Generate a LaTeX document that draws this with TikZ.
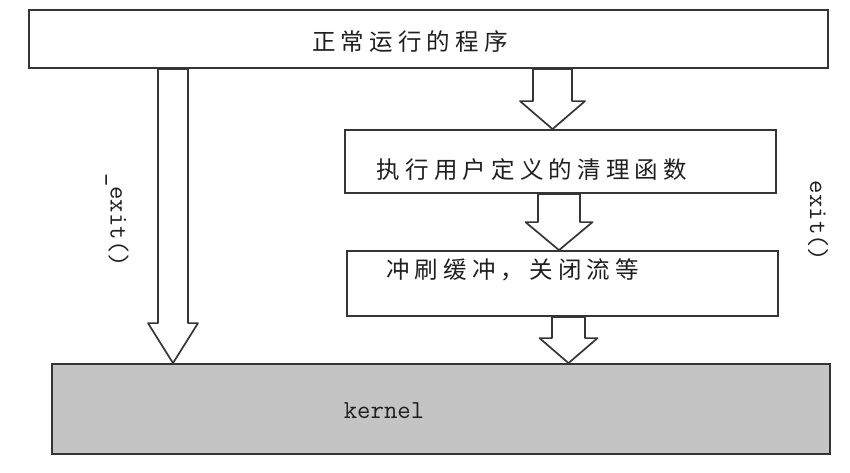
\documentclass[tikz,border=0pt]{standalone}
\usepackage{fontspec}
\newfontfamily\cjk[LetterSpace=22]{Noto Sans CJK SC}
\usetikzlibrary{calc}
\definecolor{kgray}{HTML}{C4C4C4}
\definecolor{edge}{HTML}{353535}
\tikzset{
  boxnode/.style={draw=edge, line width=1.8pt, rectangle, inner sep=0pt, fill=white},
  cjktext/.style={font=\cjk\fontsize{23.5}{23.5}\selectfont, inner sep=0pt, text=black!88},
  monotext/.style={font=\ttfamily\fontsize{26}{26}\selectfont, inner sep=0pt, text=black!88},
  barrow/.style={draw=edge, fill=white, line width=1.7pt, line join=round},
}
% #1 start, #2 end, #3 shaft half width, #4 head half width, #5 head length
\newcommand\blockarr[5]{\draw[barrow] let \p1=(#1), \p2=(#2) in
  (\x1-#3pt,\y1) -- (\x1+#3pt,\y1) -- (\x1+#3pt,\y2+#5pt) -- (\x1+#4pt,\y2+#5pt)
  -- (\x1,\y2) -- (\x1-#4pt,\y2+#5pt) -- (\x1-#3pt,\y2+#5pt) -- cycle;}
\begin{document}
\begin{tikzpicture}[x=1pt,y=-1pt]
\useasboundingbox (0,0) rectangle (850,472);
% boxes
\node[boxnode, minimum width=799pt, minimum height=58pt] (top) at (428.5,39) {};
\node[boxnode, minimum width=431pt, minimum height=63pt] (clean) at (560.5,161.5) {};
\node[boxnode, minimum width=431pt, minimum height=65pt] (flush) at (562.5,283.5) {};
\node[boxnode, fill=kgray, minimum width=778pt, minimum height=90pt] (kernel) at (441,409) {};
% texts
\node[cjktext] (t1) at (410,42) {正常运行的程序};
\node[cjktext] (t2) at (532,170) {执行用户定义的清理函数};
\node[cjktext] (t3) at (512.5,270) {冲刷缓冲，关闭流等};
\node[monotext] (t4) at (384,411) {kernel};
\node[monotext, rotate=-90] (l1) at (117,220) {\_exit()};
\node[monotext, rotate=-90] (l2) at (818,221) {exit()};
% arrow axes
\coordinate (xa) at (173,0);
\coordinate (xb) at (552.5,0);
\coordinate (xc) at (559,0);
\coordinate (xd) at (568.5,0);
% block arrows
\blockarr{top.south -| xa}{kernel.north -| xa}{15}{25}{40}
\blockarr{top.south -| xb}{clean.north -| xb}{19.5}{32.5}{28}
\blockarr{clean.south -| xc}{flush.north -| xc}{21}{33.5}{28}
\blockarr{flush.south -| xd}{kernel.north -| xd}{16.5}{29}{25}
\end{tikzpicture}
\end{document}
